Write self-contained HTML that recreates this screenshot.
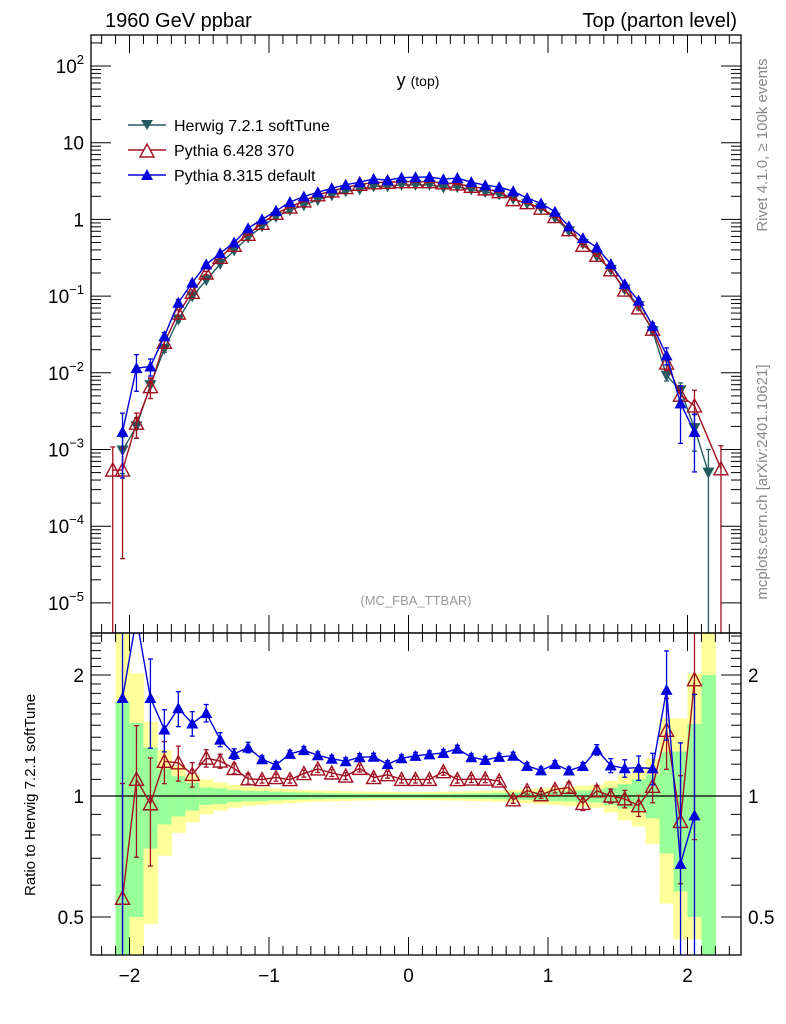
<!DOCTYPE html>
<html><head><meta charset="utf-8"><style>
html,body{margin:0;padding:0;background:#fff;overflow:hidden;width:786px;height:1024px}
svg{display:block}
svg text{font-family:"Liberation Sans",sans-serif}
</style></head><body>
<svg id="c" width="786" height="1024" viewBox="0 0 786 1024" xmlns="http://www.w3.org/2000/svg">
<defs>
<clipPath id="cm"><rect x="91" y="35" width="650" height="598"/></clipPath>
<clipPath id="cr"><rect x="91" y="633" width="650" height="322"/></clipPath>
</defs>
<rect width="786" height="1024" fill="#fff"/>
<g id="bands" clip-path="url(#cr)"></g>
<g id="gm" clip-path="url(#cm)"></g>
<g id="gr" clip-path="url(#cr)"></g>
<g id="axes"></g>
<text x="105" y="27" font-size="20">1960 GeV ppbar</text>
<text x="737" y="27" font-size="20" text-anchor="end">Top (parton level)</text>
<text x="418" y="86" font-size="18" text-anchor="middle">y <tspan font-size="14">(top)</tspan></text>
<text x="416" y="605" font-size="13" fill="#999" text-anchor="middle">(MC_FBA_TTBAR)</text>
<text transform="translate(767,145) rotate(-90)" font-size="15" fill="#888" text-anchor="middle">Rivet 4.1.0, ≥ 100k events</text>
<text transform="translate(767,482) rotate(-90)" font-size="15" fill="#888" text-anchor="middle">mcplots.cern.ch [arXiv:2401.10621]</text>
<text transform="translate(35,795) rotate(-90)" font-size="15" text-anchor="middle">Ratio to Herwig 7.2.1 softTune</text>
<g id="legend">
<g><line x1="128" y1="125" x2="166" y2="125" stroke="#235b60" stroke-width="1.5"/><path d="M141,120 L153,120 L147,130 Z" fill="#235b60"/><text x="174" y="131" font-size="16">Herwig 7.2.1 softTune</text></g>
<g><line x1="128" y1="150" x2="166" y2="150" stroke="#a01020" stroke-width="1.5"/><path d="M140,157 L154,157 L147,144 Z" fill="#fff" stroke="#a01020" stroke-width="1.4"/><text x="174" y="156" font-size="16">Pythia 6.428 370</text></g>
<g><line x1="128" y1="175" x2="166" y2="175" stroke="#0000dd" stroke-width="1.5"/><path d="M141,180 L153,180 L147,169 Z" fill="#0000dd"/><text x="174" y="181" font-size="16">Pythia 8.315 default</text></g>
</g>
</svg>
<script>
// ---- data ----
const binEdgesLo = [-2.1,-2.0,-1.9,-1.8,-1.7,-1.6,-1.5,-1.4,-1.3,-1.2,-1.1,-1.0,-0.9,-0.8,-0.7,-0.6,-0.5,-0.4,-0.3,-0.2,-0.1,0.0,0.1,0.2,0.3,0.4,0.5,0.6,0.7,0.8,0.9,1.0,1.1,1.2,1.3,1.4,1.5,1.6,1.7,1.8,1.9,2.0,2.1];
const herwigVals = [9.7e-4,2.0e-3,6.9e-3,.0205,.0496,.099,.161,.262,.393,.58,.81,1.08,1.32,1.53,1.79,2.06,2.32,2.45,2.70,2.70,2.82,2.82,2.82,2.61,2.64,2.45,2.27,2.11,1.85,1.60,1.39,1.05,.70,.48,.33,.22,.122,.074,.035,.0092,.0059,.0019,5e-4];
const herwigErr = [.5,.3,.2,.1,.07,.05,.04,.03,.03,.02,.02,.02,.02,.02,.02,.02,.02,.02,.02,.02,.02,.02,.02,.02,.02,.02,.02,.02,.02,.02,.02,.02,.02,.03,.03,.04,.05,.06,.08,.15,.25,.5,1.0];
const p6EdgeX = [-2.12, 2.24];
const p6Vals = [5.4e-4,5.4e-4,2.2e-3,6.6e-3,.025,.060,.112,.20,.32,.46,.64,.89,1.20,1.45,1.74,2.09,2.35,2.60,2.87,3.00,3.05,3.10,3.10,3.10,3.00,2.90,2.70,2.50,2.30,1.81,1.65,1.40,1.09,.735,.46,.34,.22,.12,.070,.037,.0134,.0051,.0037,5.6e-4];
const p6Err = [1.0,.93,.36,.3,.12,.1,.07,.05,.04,.03,.03,.02,.02,.02,.02,.02,.02,.02,.02,.02,.02,.02,.02,.02,.02,.02,.02,.02,.02,.02,.02,.02,.02,.03,.04,.03,.04,.05,.06,.09,.2,.3,.6,1.0];
const p8Vals = [1.7e-3,.0115,.0121,.030,.082,.150,.259,.362,.50,.766,1.00,1.29,1.68,1.99,2.26,2.55,2.83,3.06,3.38,3.24,3.50,3.55,3.58,3.34,3.46,3.06,2.79,2.64,2.33,1.90,1.61,1.26,.81,.57,.43,.262,.143,.087,.041,.0169,.0040,.0017];
const p8Err = [.75,.5,.25,.12,.1,.07,.05,.04,.03,.03,.02,.02,.02,.02,.02,.02,.02,.02,.02,.02,.02,.02,.02,.02,.02,.02,.02,.02,.02,.02,.02,.02,.02,.02,.03,.04,.05,.07,.09,.25,.7,.7];
const yellowHi = [3,2.02,1.53,1.30,1.19,1.13,1.10,1.08,1.065,1.055,1.05,1.045,1.04,1.035,1.032,1.03,1.028,1.026,1.025,1.024,1.024,1.024,1.024,1.025,1.026,1.028,1.03,1.032,1.035,1.04,1.045,1.05,1.055,1.06,1.065,1.09,1.13,1.17,1.24,1.56,1.56,2.02,3];
const yellowLo = [.1,.1,.48,.71,.81,.86,.90,.92,.935,.945,.95,.955,.96,.965,.968,.97,.972,.974,.975,.976,.976,.976,.976,.975,.974,.972,.97,.968,.965,.96,.955,.95,.945,.94,.935,.91,.87,.84,.76,.54,.44,.44,.1];
const greenHi = [1.72,1.52,1.32,1.17,1.12,1.08,1.05,1.045,1.035,1.03,1.028,1.025,1.022,1.02,1.018,1.016,1.015,1.014,1.013,1.013,1.012,1.012,1.013,1.013,1.014,1.015,1.016,1.018,1.02,1.022,1.025,1.028,1.03,1.033,1.036,1.05,1.07,1.10,1.13,1.29,1.29,1.51,2.0];
const greenLo = [.1,.50,.74,.85,.89,.92,.95,.955,.965,.97,.972,.975,.978,.98,.982,.984,.985,.986,.987,.987,.988,.988,.987,.987,.986,.985,.984,.982,.98,.978,.975,.972,.97,.967,.964,.95,.93,.91,.88,.72,.58,.50,.1];
const xTickVals = [-2,-1,0,1,2];
const xTickLabels = ["\u22122","\u22121","0","1","2"];
const ratioTickVals = [0.5,1,2];
const ratioTickLabels = ["0.5","1","2"];
const mainDecades = [-5,-4,-3,-2,-1,0,1,2];

// ---- scales ----
const BW = 0.1;
const X = x => 408.5 + x*139.5;
const clampY = (y,t,b) => Math.max(t-15, Math.min(b+15, y));
const YM = v => clampY(66 + (2 - Math.log10(v))*76.7, 35, 633);
const YR = r => clampY(796 - Math.log2(r)*121, 633, 955);
const NS = "http://www.w3.org/2000/svg";
function mk(tag, attrs, parent){const e=document.createElementNS(NS,tag);for(const k in attrs)e.setAttribute(k,attrs[k]);parent.appendChild(e);return e;}
const gm=document.getElementById('gm'), gr=document.getElementById('gr'), gb=document.getElementById('bands'), ax=document.getElementById('axes');
const centers = binEdgesLo.map(e => e + BW/2);

binEdgesLo.forEach((e,i)=>{
  const x0=X(e), x1=X(e+BW);
  const y=mk('rect',{x:x0,y:YR(yellowHi[i]),width:x1-x0+0.5,height:YR(yellowLo[i])-YR(yellowHi[i]),fill:'#ffff99'},gb);
  
  
  const g=mk('rect',{x:x0,y:YR(greenHi[i]),width:x1-x0+0.5,height:YR(greenLo[i])-YR(greenHi[i]),fill:'#99ff99'},gb);
  
  
});
const one=mk('line',{x1:91,x2:741,y1:YR(1),y2:YR(1),stroke:'#000','stroke-width':1.3},gr);



function marker(type,cx,cy,col,parent){
  let el;
  if(type==='down') el=mk('path',{d:`M${cx-6},${cy-5} L${cx+6},${cy-5} L${cx},${cy+6} Z`,fill:col},parent);
  else if(type==='up') el=mk('path',{d:`M${cx-6},${cy+5} L${cx+6},${cy+5} L${cx},${cy-6} Z`,fill:col},parent);
  else el=mk('path',{d:`M${cx-7},${cy+6} L${cx+7},${cy+6} L${cx},${cy-7} Z`,fill:'none',stroke:col,'stroke-width':1.4},parent);
  
  
}
function series(name,xs,vs,errs,col,type,Y,parent){
  const g=mk('g',{},parent);
  
  
  const pts=xs.map((x,i)=>X(x)+','+Y(vs[i])).join(' ');
  mk('polyline',{points:pts,fill:'none',stroke:col,'stroke-width':1.4},g);
  xs.forEach((x,i)=>{
    const hi=vs[i]*(1+errs[i]), lo=Math.max(vs[i]*(1-errs[i]),1e-9);
    const cx=X(x);
    mk('line',{x1:cx,x2:cx,y1:Y(hi),y2:Y(lo),stroke:col,'stroke-width':1.3},g);
    mk('line',{x1:cx-2.5,x2:cx+2.5,y1:Y(hi),y2:Y(hi),stroke:col,'stroke-width':1.3},g);
    mk('line',{x1:cx-2.5,x2:cx+2.5,y1:Y(lo),y2:Y(lo),stroke:col,'stroke-width':1.3},g);
  });
  xs.forEach((x,i)=>marker(type,X(x),Y(vs[i]),col,g));
}
const HC='#235b60', RC='#a01020', BC='#0000dd';
const p6X = [p6EdgeX[0]].concat(centers.slice(0,42)).concat([p6EdgeX[1]]);
const p8X = centers.slice(0,42);
series('herwig-series',centers,herwigVals,herwigErr,HC,'down',YM,gm);
series('pythia6-series',p6X,p6Vals,p6Err,RC,'open',YM,gm);
series('pythia8-series',p8X,p8Vals,p8Err,BC,'up',YM,gm);
const p6R = p6Vals.slice(1,43).map((v,i)=>v/herwigVals[i]);
const p8R = p8Vals.map((v,i)=>v/herwigVals[i]);
const p8RErr = p8Err.map((e,i)=> (i===0||i>=40) ? 1.0 : e);
series('pythia6-ratio',centers.slice(0,42),p6R,p6Err.slice(1,43),RC,'open',YR,gr);
series('pythia8-ratio',p8X,p8R,p8RErr,BC,'up',YR,gr);

[[35,633],[633,955]].forEach(([t,b],k)=>{
  const r=mk('rect',{x:91,y:t,width:650,height:b-t,fill:'none',stroke:'#000','stroke-width':1.3},ax);
  
  
});
for(let i=-23;i<=23;i++){
  const x=i/10, px=X(x); if(px<91||px>741) continue;
  const major = i%10===0, L = major?18:9;
  [[35,1],[633,-1],[633,1],[955,-1]].forEach(([y0,d])=>mk('line',{x1:px,x2:px,y1:y0,y2:y0+d*L,stroke:'#000','stroke-width':1},ax));
}
xTickVals.forEach((v,i)=>{
  const t=mk('text',{x:X(v),y:982,'font-size':19,'text-anchor':'middle'},ax);
  t.textContent=xTickLabels[i];
  
  
});
mainDecades.forEach(d=>{
  for(let m=1;m<=9;m++){
    const v=m*Math.pow(10,d), py=66 + (2 - Math.log10(v))*76.7; if(py<35||py>633) continue;
    const L=m===1?20:10;
    mk('line',{x1:91,x2:91+L,y1:py,y2:py,stroke:'#000','stroke-width':1},ax);
    mk('line',{x1:741,x2:741-L,y1:py,y2:py,stroke:'#000','stroke-width':1},ax);
  }
  const py=YM(Math.pow(10,d));
  const t=mk('text',{x:84,y:py+7,'font-size':19,'text-anchor':'end'},ax);
  
  
  if(d===0) t.textContent='1';
  else if(d===1) t.textContent='10';
  else { t.textContent='10'; const s=mk('tspan',{'font-size':13,dy:-9},t); s.textContent=String(d).replace('-','\u2212'); }
});
[0.5,0.6,0.7,0.8,0.9,1,1.1,1.2,1.3,1.4,1.5,1.6,1.7,1.8,1.9,2,2.1,2.2,2.3,2.4,2.5].forEach(v=>{
  const py=YR(v); const L=(v===0.5||v===1||v===2)?20:10;
  mk('line',{x1:91,x2:91+L,y1:py,y2:py,stroke:'#000','stroke-width':1},ax);
  mk('line',{x1:741,x2:741-L,y1:py,y2:py,stroke:'#000','stroke-width':1},ax);
});
ratioTickVals.forEach((v,i)=>{
  const a=mk('text',{x:84,y:YR(v)+7,'font-size':19,'text-anchor':'end'},ax); a.textContent=ratioTickLabels[i];
  
  
  const b=mk('text',{x:748,y:YR(v)+7,'font-size':19},ax); b.textContent=ratioTickLabels[i];
  
  
});
</script>
</body></html>
